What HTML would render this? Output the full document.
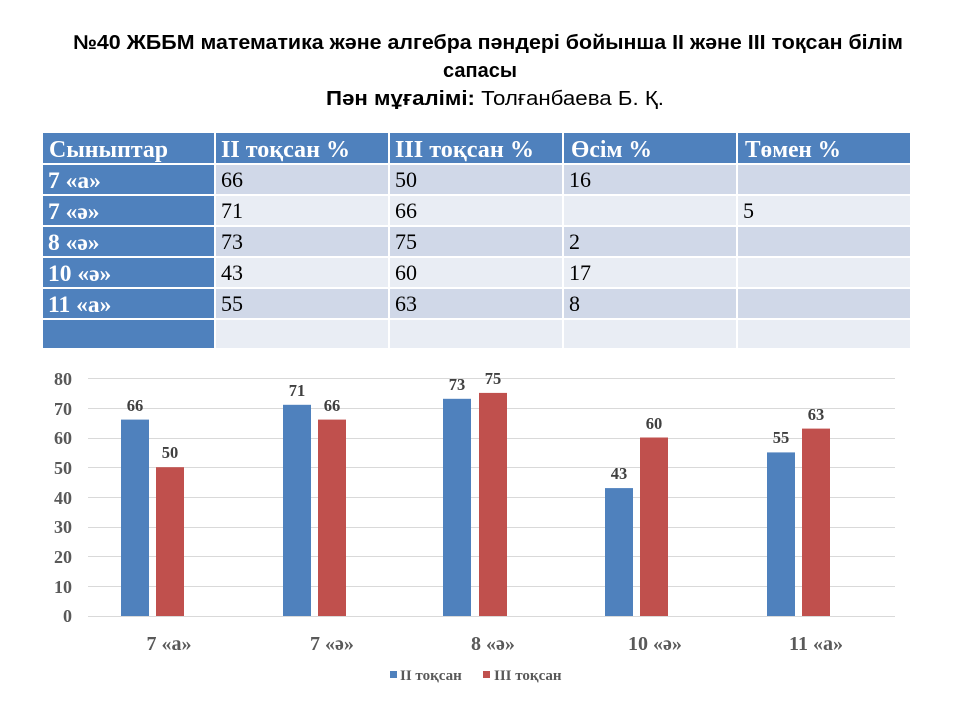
<!DOCTYPE html>
<html><head><meta charset="utf-8"><style>
html,body{margin:0;padding:0;background:#fff;}
svg{display:block;}
</style></head><body>
<svg width="960" height="720" viewBox="0 0 960 720" xmlns="http://www.w3.org/2000/svg">
<rect width="960" height="720" fill="#fff"/>
<g font-family="'Liberation Sans', sans-serif" fill="#000">
<text x="73" y="49" font-size="20" font-weight="bold" textLength="830" lengthAdjust="spacingAndGlyphs">№40 ЖББМ математика және алгебра пәндері бойынша II және III тоқсан білім</text>
<text x="480" y="77" font-size="20" font-weight="bold" text-anchor="middle">сапасы</text>
<text x="326" y="105" font-size="20" textLength="338" lengthAdjust="spacingAndGlyphs"><tspan font-weight="bold">Пән мұғалімі:</tspan> Толғанбаева Б. Қ.</text>
</g>
<g>
<rect x="43" y="133" width="867" height="30" fill="#4f81bd"/>
<rect x="43" y="165" width="867" height="29" fill="#d0d8e8"/>
<rect x="43" y="196" width="867" height="29" fill="#e9edf4"/>
<rect x="43" y="227" width="867" height="29" fill="#d0d8e8"/>
<rect x="43" y="258" width="867" height="29" fill="#e9edf4"/>
<rect x="43" y="289" width="867" height="29" fill="#d0d8e8"/>
<rect x="43" y="320" width="867" height="28" fill="#e9edf4"/>
<rect x="43" y="163" width="172" height="185" fill="#4f81bd"/>
<g stroke="#fff" stroke-width="2">
<line x1="43" y1="164" x2="910" y2="164"/>
<line x1="43" y1="195" x2="910" y2="195"/>
<line x1="43" y1="226" x2="910" y2="226"/>
<line x1="43" y1="257" x2="910" y2="257"/>
<line x1="43" y1="288" x2="910" y2="288"/>
<line x1="43" y1="319" x2="910" y2="319"/>
<line x1="215" y1="133" x2="215" y2="348"/>
<line x1="389" y1="133" x2="389" y2="348"/>
<line x1="563" y1="133" x2="563" y2="348"/>
<line x1="737" y1="133" x2="737" y2="348"/>
</g>
<g font-family="'Liberation Serif', serif" font-size="24" font-weight="bold" fill="#fff">
<text x="49" y="157" textLength="119" lengthAdjust="spacingAndGlyphs">Сыныптар</text>
<text x="221" y="157" textLength="129" lengthAdjust="spacingAndGlyphs">II тоқсан %</text>
<text x="395" y="157" textLength="139" lengthAdjust="spacingAndGlyphs">III тоқсан %</text>
<text x="571" y="157" textLength="81" lengthAdjust="spacingAndGlyphs">Өсім %</text>
<text x="745" y="157" textLength="96" lengthAdjust="spacingAndGlyphs">Төмен %</text>
</g>
<g font-family="'Liberation Serif', serif" font-size="23.5" font-weight="bold" fill="#fff">
<text x="48" y="188">7 «а»</text>
<text x="48" y="219">7 «ә»</text>
<text x="48" y="250">8 «ә»</text>
<text x="48" y="281">10 «ә»</text>
<text x="48" y="312">11 «а»</text>
</g>
<g font-family="'Liberation Serif', serif" font-size="22" fill="#000">
<text x="221" y="187">66</text><text x="395" y="187">50</text><text x="569" y="187">16</text>
<text x="221" y="218">71</text><text x="395" y="218">66</text><text x="743" y="218">5</text>
<text x="221" y="249">73</text><text x="395" y="249">75</text><text x="569" y="249">2</text>
<text x="221" y="280">43</text><text x="395" y="280">60</text><text x="569" y="280">17</text>
<text x="221" y="311">55</text><text x="395" y="311">63</text><text x="569" y="311">8</text>
</g>
</g>
<g stroke="#d9d9d9" stroke-width="1">
<line x1="88" y1="378.5" x2="895" y2="378.5"/>
<line x1="88" y1="408.5" x2="895" y2="408.5"/>
<line x1="88" y1="438.5" x2="895" y2="438.5"/>
<line x1="88" y1="467.5" x2="895" y2="467.5"/>
<line x1="88" y1="497.5" x2="895" y2="497.5"/>
<line x1="88" y1="527.5" x2="895" y2="527.5"/>
<line x1="88" y1="556.5" x2="895" y2="556.5"/>
<line x1="88" y1="586.5" x2="895" y2="586.5"/>
<line x1="88" y1="616.5" x2="895" y2="616.5"/>
</g>
<g font-family="'Liberation Serif', serif" font-size="18" font-weight="bold" fill="#595959" text-anchor="end">
<text x="72" y="385">80</text><text x="72" y="415">70</text><text x="72" y="444">60</text>
<text x="72" y="474">50</text><text x="72" y="504">40</text><text x="72" y="533">30</text>
<text x="72" y="563">20</text><text x="72" y="593">10</text><text x="72" y="622">0</text>
</g>
<g fill="#4f81bd">
<rect x="121" y="419.6" width="28" height="196.4"/>
<rect x="283" y="404.8" width="28" height="211.2"/>
<rect x="443" y="398.8" width="28" height="217.2"/>
<rect x="605" y="488.1" width="28" height="127.9"/>
<rect x="767" y="452.4" width="28" height="163.6"/>
</g>
<g fill="#c0504d">
<rect x="156" y="467.2" width="28" height="148.8"/>
<rect x="318" y="419.6" width="28" height="196.4"/>
<rect x="479" y="392.9" width="28" height="223.1"/>
<rect x="640" y="437.5" width="28" height="178.5"/>
<rect x="802" y="428.6" width="28" height="187.4"/>
</g>
<g font-family="'Liberation Serif', serif" font-size="16.5" font-weight="bold" fill="#404040" text-anchor="middle">
<text x="135" y="411">66</text><text x="170" y="458">50</text>
<text x="297" y="396">71</text><text x="332" y="411">66</text>
<text x="457" y="390">73</text><text x="493" y="384">75</text>
<text x="619" y="479">43</text><text x="654" y="429">60</text>
<text x="781" y="443">55</text><text x="816" y="420">63</text>
</g>
<g font-family="'Liberation Serif', serif" font-size="20" font-weight="bold" fill="#595959" text-anchor="middle">
<text x="169" y="650">7 «а»</text>
<text x="332" y="650">7 «ә»</text>
<text x="493" y="650">8 «ә»</text>
<text x="655" y="650">10 «ә»</text>
<text x="816" y="650">11 «а»</text>
</g>
<rect x="390" y="671" width="7" height="7" fill="#4f81bd"/>
<rect x="483" y="671" width="7" height="7" fill="#c0504d"/>
<g font-family="'Liberation Serif', serif" font-size="15" font-weight="bold" fill="#595959">
<text x="400" y="680">II тоқсан</text>
<text x="494" y="680">III тоқсан</text>
</g>
</svg>
</body></html>
